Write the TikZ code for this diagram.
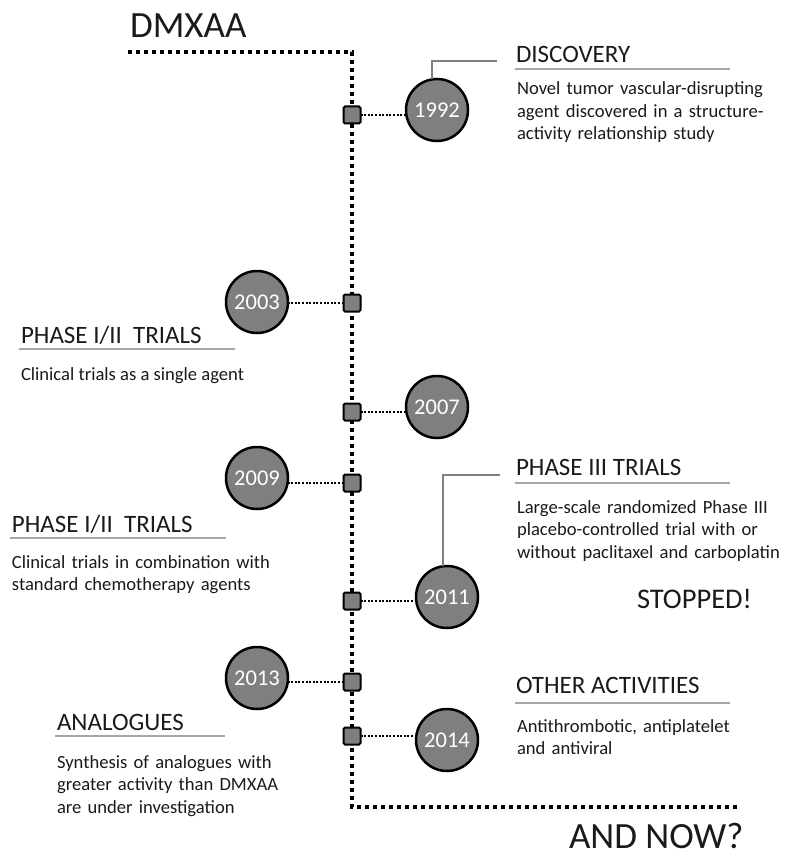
\documentclass[tikz,border=0pt]{standalone}
\usepackage{fontspec}
\setmainfont{Carlito}
\hyphenpenalty=10000
\hbadness=10000
\hfuzz=20pt
\definecolor{txt}{HTML}{1A1A1A}
\definecolor{dot}{HTML}{7F7F7F}
\definecolor{uln}{HTML}{A6A6A6}
\definecolor{lead}{HTML}{808080}
\begin{document}
\begin{tikzpicture}[x=1pt,y=-1pt,
  every node/.style={inner sep=0pt, outer sep=0pt, text=txt},
  mainline/.style={line width=4pt, dash pattern=on 4pt off 4pt, black},
  thindot/.style={line width=2pt, dash pattern=on 2pt off 1.6pt, black},
  sq/.style={draw=black, fill=dot, line width=2pt, minimum size=17pt, rounded corners=1.5pt},
  yr/.style={circle, draw=black, fill=dot, line width=2.5pt, minimum size=62pt, text=white, font=\fontsize{22.5}{26}\selectfont},
  big/.style={anchor=base west, text depth=0pt, font=\fontsize{37}{42}\selectfont},
  head/.style={anchor=base west, font=\fontsize{25}{29}\selectfont},
  body/.style={anchor=base west, font=\fontsize{18.6}{22.5}\selectfont},
  uline/.style={draw=uln, line width=1.5pt},
  leader/.style={draw=lead, line width=2pt}]
\useasboundingbox (0,0) rectangle (784,856);

% main dotted path
\coordinate (tl) at (128,52);
\coordinate (tc) at (352,52);
\coordinate (bc) at (352,807);
\coordinate (br) at (740,807);
\draw[mainline] (tl) -- (tc) -- (bc) -- (br);

% squares
\node[sq] (s1) at (352,115) {};
\node[sq] (s2) at (352,303) {};
\node[sq] (s3) at (352,412) {};
\node[sq] (s4) at (352,483) {};
\node[sq] (s5) at (352,601) {};
\node[sq] (s6) at (352,682) {};
\node[sq] (s7) at (352,736) {};

% year circles
\node[yr] (c1) at (437,110) {1992};
\node[yr] (c2) at (257,302) {2003};
\node[yr] (c3) at (437,407) {2007};
\node[yr] (c4) at (257,478) {2009};
\node[yr] (c5) at (447,597) {2011};
\node[yr] (c6) at (257,678) {2013};
\node[yr] (c7) at (447,740) {2014};

% connectors
\draw[thindot] (s1.east) -- (s1.east -| c1.west);
\draw[thindot] (s2.west) -- (s2.west -| c2.east);
\draw[thindot] (s3.east) -- (s3.east -| c3.west);
\draw[thindot] (s4.west) -- (s4.west -| c4.east);
\draw[thindot] (s5.east) -- (s5.east -| c5.west);
\draw[thindot] (s6.west) -- (s6.west -| c6.east);
\draw[thindot] (s7.east) -- (s7.east -| c7.west);

% leader lines
\coordinate (l1) at (497,61);
\coordinate (l5) at (500,475);
\draw[leader] (c1.99) |- (l1);
\draw[leader] (c5.97) |- (l5);

% titles
\node[big] (t1) at (130,38) {DMXAA};
\node[big] (t2) at (569,848) {AND NOW?};

% DISCOVERY
\node[head] (h1) at (516,63) {DISCOVERY};
\draw[uline] (515,69) -- (730,69);
\node[body, text width=261pt] (b1) at (517,95) {Novel tumor vascular-disrupting\linebreak agent discovered in a structure-\linebreak activity relationship study};

% PHASE I/II (1)
\node[head] (h2) at (21,343) {PHASE I/II\ \ TRIALS};
\draw[uline] (19,349) -- (235,349);
\node[body] (b2) at (21,380) {Clinical trials as a single agent};

% PHASE I/II (2)
\node[head] (h3) at (12,532) {PHASE I/II\ \ TRIALS};
\draw[uline] (10,538) -- (226,538);
\node[body, text width=266pt] (b3) at (12,568) {Clinical trials in combination with\linebreak standard chemotherapy agents};

% PHASE III
\node[head] (h4) at (516,475) {PHASE III TRIALS};
\draw[uline] (515,483) -- (730,483);
\node[body, text width=262pt] (b4) at (517,513) {Large-scale randomized Phase III\linebreak placebo-controlled trial with or\linebreak \mbox{without paclitaxel and carboplatin}};
\node[anchor=base west, font=\fontsize{28.5}{32}\selectfont] (st) at (637,608) {STOPPED!};

% OTHER ACTIVITIES
\node[head] (h5) at (516,693) {OTHER ACTIVITIES};
\draw[uline] (515,703) -- (730,703);
\node[body, text width=240pt, align=left] (b5) at (517,732) {Antithrombotic, antiplatelet\\and antiviral};

% ANALOGUES
\node[head] (h6) at (57,730) {ANALOGUES};
\draw[uline] (55,736) -- (225,736);
\node[body, text width=229pt] (b6) at (57,768) {Synthesis of analogues with\linebreak greater activity than DMXAA\linebreak are under investigation};
\end{tikzpicture}
\end{document}
